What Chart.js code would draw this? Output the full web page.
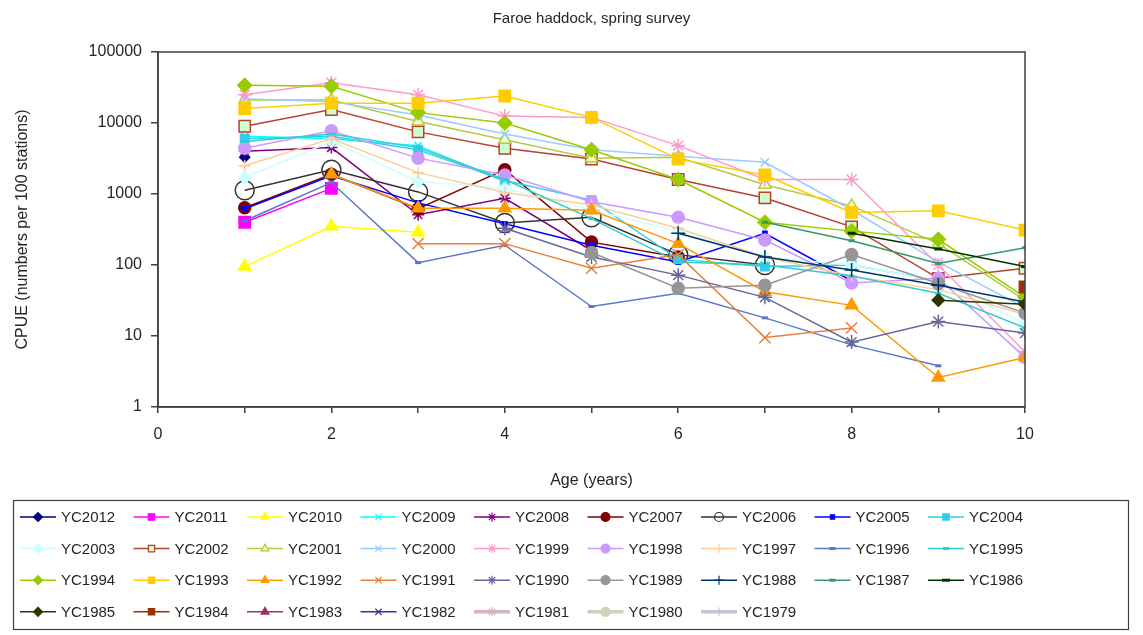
<!DOCTYPE html>
<html>
<head>
<meta charset="utf-8">
<script src="https://cdn.jsdelivr.net/npm/chart.js"></script>
<style>
  body { margin: 0; background: #fff; }
  #wrap { width: 1143px; height: 635px; }
</style>
</head>
<body>
<div id="wrap"><canvas id="cpueChart" width="1143" height="635"></canvas></div>
<script>
// ages on the x axis and the decade ticks of the log y axis
const ages = [1, 2, 3, 4, 5, 6, 7, 8, 9, 10];
const yTicks = [1, 10, 100, 1000, 10000, 100000];

// CPUE by age (1..10), null where the year class was not surveyed
const yc2012 = [3300];
const yc2011 = [400, 1200];
const yc2010 = [95, 350, 290];
const yc2009 = [6500, 6000, 4800, 1500];
const yc2008 = [4000, 4500, 510, 870, 160];
const yc2007 = [640, 1900, 620, 2200, 210, 130];
const yc2006 = [1130, 2200, 1070, 390, 470, 140, 100];
const yc2005 = [620, 1800, 750, 380, 190, 110, 280, 60];
const yc2004 = [6000, 6500, 4200, 1550, 820, 120, 95, 100, 60];
const yc2003 = [1700, 5500, 1500, 1200, 600, 300, 130, 100, 60, 15];
const yc2002 = [9000, 15500, 7500, 4400, 3100, 1600, 880, 345, 65, 90];
const yc2001 = [21000, 21000, 10500, 5800, 3200, 3300, 1350, 680, 200, 32];
const yc2000 = [22000, 20000, 13000, 7000, 4200, 3400, 2800, 600, 110, 25];
const yc1999 = [25000, 37000, 25000, 12500, 12000, 4800, 1600, 1600, 100, 6];
const yc1998 = [4400, 7800, 3200, 1850, 780, 470, 225, 56, 65, 5];
const yc1997 = [2500, 6000, 2000, 1050, 700, 330, 130, 70, 45, 20];
const yc1996 = [420, 1450, 108, 190, 26, 40, 18, 7.5, 3.8, null];
const yc1995 = [5500, 7000, 4500, 1600, 450, 110, 100, 70, 40, 13];
const yc1994 = [34000, 33000, 14000, 10000, 4200, 1600, 400, 300, 230, 35];
const yc1993 = [16000, 19000, 19000, 24000, 12000, 3100, 1850, 550, 580, 310];
const yc1992 = [null, 1900, 630, 630, 590, 200, 42, 27, 2.6, 5];
const yc1991 = [null, null, 200, 200, 90, 140, 9.5, 13, null, null];
const yc1990 = [null, null, null, 330, 130, 72, 35, 8.2, 16, 11];
const yc1989 = [null, null, null, null, 150, 47, 52, 140, 55, 21];
const yc1988 = [null, null, null, null, null, 280, 130, 85, 52, 30];
const yc1987 = [null, null, null, null, null, null, 400, 220, 105, 175];
const yc1986 = [null, null, null, null, null, null, null, 280, 168, 95];
const yc1985 = [null, null, null, null, null, null, null, null, 32, 28];
const yc1984 = [null, null, null, null, null, null, null, null, null, 49];
const yc1983 = [];
const yc1982 = [];
const yc1981 = [];
const yc1980 = [];
const yc1979 = [];

const yearClasses = ['YC2012','YC2011','YC2010','YC2009','YC2008','YC2007','YC2006','YC2005','YC2004',
  'YC2003','YC2002','YC2001','YC2000','YC1999','YC1998','YC1997','YC1996','YC1995',
  'YC1994','YC1993','YC1992','YC1991','YC1990','YC1989','YC1988','YC1987','YC1986',
  'YC1985','YC1984','YC1983','YC1982','YC1981','YC1980','YC1979'];
const series = [yc2012, yc2011, yc2010, yc2009, yc2008, yc2007, yc2006, yc2005, yc2004,
  yc2003, yc2002, yc2001, yc2000, yc1999, yc1998, yc1997, yc1996, yc1995,
  yc1994, yc1993, yc1992, yc1991, yc1990, yc1989, yc1988, yc1987, yc1986,
  yc1985, yc1984, yc1983, yc1982, yc1981, yc1980, yc1979];

// look of each series (line colour, marker, marker fill)
const styles = {
  YC2012: { c: '#000080', p: 'rectRot', r: 5 },
  YC2011: { c: '#FF00FF', p: 'rect', r: 8 },
  YC2010: { c: '#FFFF00', p: 'triangle', r: 7 },
  YC2009: { c: '#00FFFF', p: 'crossRot', r: 5 },
  YC2008: { c: '#800080', p: 'star', r: 6 },
  YC2007: { c: '#800000', p: 'circle', r: 6 },
  YC2006: { c: '#333333', p: 'circle', r: 9.5, bg: 'rgba(255,255,255,0)' },
  YC2005: { c: '#0000FF', p: 'rect', r: 3 },
  YC2004: { c: '#33CCEE', p: 'rect', r: 6 },
  YC2003: { c: '#CCFFFF', p: 'rectRot', r: 6 },
  YC2002: { c: '#B8402E', p: 'rect', r: 8, bg: '#CCFFCC' },
  YC2001: { c: '#B5C942', p: 'triangle', r: 7, bg: '#EEFFCC' },
  YC2000: { c: '#99CCFF', p: 'crossRot', r: 6 },
  YC1999: { c: '#FF99CC', p: 'star', r: 7 },
  YC1998: { c: '#CC99FF', p: 'circle', r: 6 },
  YC1997: { c: '#FFCC99', p: 'cross', r: 6 },
  YC1996: { c: '#5A78C8', p: 'line', r: 3 },
  YC1995: { c: '#33CCCC', p: 'line', r: 3 },
  YC1994: { c: '#99CC00', p: 'rectRot', r: 7 },
  YC1993: { c: '#FFCC00', p: 'rect', r: 8 },
  YC1992: { c: '#FF9900', p: 'triangle', r: 7 },
  YC1991: { c: '#E8803C', p: 'crossRot', r: 8 },
  YC1990: { c: '#666699', p: 'star', r: 7 },
  YC1989: { c: '#969696', p: 'circle', r: 6 },
  YC1988: { c: '#003366', p: 'cross', r: 7 },
  YC1987: { c: '#339966', p: 'line', r: 3 },
  YC1986: { c: '#003300', p: 'line', r: 4 },
  YC1985: { c: '#333300', p: 'rectRot', r: 6 },
  YC1984: { c: '#993300', p: 'rect', r: 8 },
  YC1983: { c: '#993366', p: 'triangle', r: 6 },
  YC1982: { c: '#333399', p: 'crossRot', r: 5 },
  YC1981: { c: '#D4B4B8', p: 'star', r: 5, w: 3.5 },
  YC1980: { c: '#CCD4B8', p: 'circle', r: 5, w: 3.5 },
  YC1979: { c: '#C4C4D8', p: 'cross', r: 5, w: 3.5 }
};

Chart.defaults.font.family = '"Liberation Sans", Arial, sans-serif';
Chart.defaults.color = '#262626';

const axisColor = '#404040';
const textColor = '#262626';

const datasets = yearClasses.map((name, i) => {
  const s = styles[name];
  const pts = [];
  series[i].forEach((v, k) => pts.push({ x: ages[k], y: v }));
  return {
    label: name,
    data: pts,
    borderColor: s.c,
    borderWidth: s.w || 1.5,
    pointStyle: s.p,
    pointRadius: s.r,
    pointBorderColor: s.c,
    pointBorderWidth: s.p === 'line' ? 3 : 1.5,
    pointBackgroundColor: s.bg || s.c,
    pointHoverRadius: s.r,
    fill: false,
    tension: 0,
    spanGaps: false,
    order: yearClasses.length - i
  };
});

// plot frame around the chart area
const framePlugin = {
  id: 'frame',
  afterDraw(chart) {
    const { ctx, chartArea: a } = chart;
    ctx.save();
    ctx.strokeStyle = axisColor;
    ctx.lineWidth = 1.5;
    ctx.strokeRect(a.left, a.top, a.right - a.left, a.bottom - a.top);
    ctx.restore();
  }
};

// boxed legend in a 9-column grid under the plot
const gridLegend = {
  id: 'gridLegend',
  afterDraw(chart) {
    const ctx = chart.ctx;
    ctx.save();
    ctx.strokeStyle = axisColor;
    ctx.lineWidth = 1.2;
    ctx.strokeRect(13.5, 500.5, 1115, 129);
    ctx.font = '15px "Liberation Sans", Arial, sans-serif';
    ctx.textBaseline = 'middle';
    chart.data.datasets.forEach((ds, i) => {
      const col = i % 9, row = Math.floor(i / 9);
      const x0 = 20 + col * 113.5;
      const y = 517 + row * 31.6;
      ctx.strokeStyle = ds.borderColor;
      ctx.lineWidth = ds.borderWidth;
      ctx.beginPath();
      ctx.moveTo(x0, y);
      ctx.lineTo(x0 + 36, y);
      ctx.stroke();
      ctx.fillStyle = ds.pointBackgroundColor;
      ctx.strokeStyle = ds.pointBorderColor;
      ctx.lineWidth = ds.pointStyle === 'line' ? 3 : 1.2;
      Chart.helpers.drawPoint(ctx, {
        pointStyle: ds.pointStyle,
        radius: Math.min(ds.pointRadius, 4.5),
        rotation: 0,
        borderWidth: 1.2
      }, x0 + 18, y);
      ctx.fillStyle = textColor;
      ctx.fillText(ds.label, x0 + 41, y + 1);
    });
    ctx.restore();
  }
};

new Chart(document.getElementById('cpueChart').getContext('2d'), {
  type: 'line',
  data: { datasets: datasets },
  options: {
    responsive: false,
    animation: false,
    layout: { padding: { left: 0, right: 118, top: 0, bottom: 145 } },
    plugins: {
      legend: { display: false },
      tooltip: { enabled: false },
      title: {
        display: true,
        fullSize: false,
        text: 'Faroe haddock, spring survey',
        color: textColor,
        font: { size: 15, weight: 'normal' },
        padding: { top: 10, bottom: 24 }
      }
    },
    scales: {
      x: {
        type: 'linear',
        min: 0,
        max: 10,
        afterFit: (s) => { s.height = 83; },
        ticks: {
          stepSize: 1,
          autoSkip: false,
          maxRotation: 0,
          padding: 12,
          font: { size: 16 },
          color: textColor,
          callback: (v) => (v % 2 === 0 ? String(v) : '')
        },
        grid: { display: true, drawOnChartArea: false, drawTicks: true, tickLength: 6, color: axisColor, lineWidth: 1.5 },
        border: { display: true, color: axisColor, width: 1.5 },
        title: { display: true, text: 'Age (years)', font: { size: 16 }, color: textColor, padding: { top: 0, bottom: 0 } }
      },
      y: {
        type: 'logarithmic',
        min: 1,
        max: 100000,
        afterFit: (s) => { s.width = 158; },
        afterBuildTicks: (s) => { s.ticks = yTicks.map(v => ({ value: v })); },
        ticks: {
          padding: 9,
          font: { size: 16 },
          color: textColor,
          callback: (v) => String(v)
        },
        grid: { display: true, drawOnChartArea: false, drawTicks: true, tickLength: 7, color: axisColor, lineWidth: 1.5 },
        border: { display: true, color: axisColor, width: 1.5 },
        title: { display: true, text: 'CPUE (numbers per 100 stations)', font: { size: 16 }, color: textColor, padding: { top: 13, bottom: 0 } }
      }
    }
  },
  plugins: [framePlugin, gridLegend]
});
</script>
</body>
</html>
